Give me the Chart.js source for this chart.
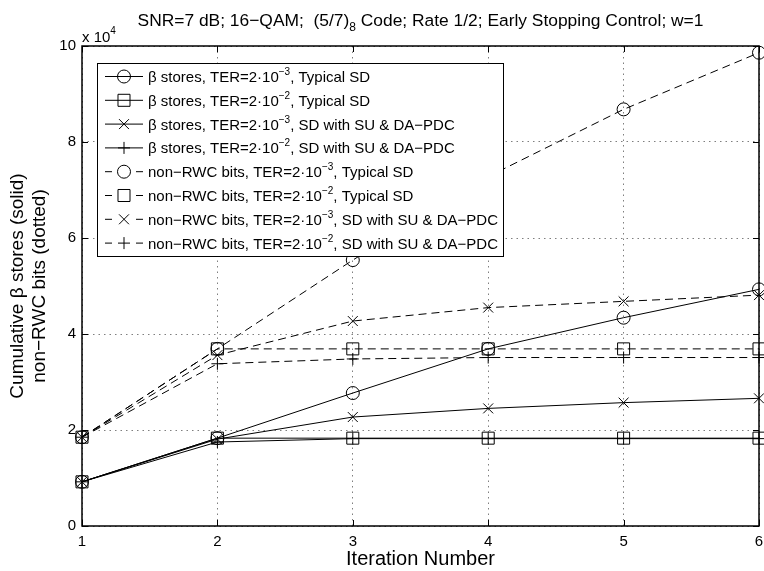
<!DOCTYPE html>
<html>
<head>
<meta charset="utf-8">
<script src="https://cdn.jsdelivr.net/npm/chart.js@4.4.0/dist/chart.umd.min.js"></script>
<style>
  body { margin: 0; background: #fff; }
  #mycanvas { display: block; }
</style>
</head>
<body>
<canvas id="mycanvas" width="764" height="571"></canvas>
<script>
// iteration numbers on the x axis
var iterations = [1, 2, 3, 4, 5, 6];
// all values in units of 10^4
var betaTer3Typical = [0.92, 1.83, 2.77, 3.69, 4.34, 4.93];
var betaTer2Typical = [0.92, 1.83, 1.83, 1.83, 1.83, 1.83];
var betaTer3Su      = [0.92, 1.81, 2.27, 2.45, 2.57, 2.66];
var betaTer2Su      = [0.92, 1.75, 1.82, 1.82, 1.82, 1.82];
var bitsTer3Typical = [1.85, 3.69, 5.54, 7.28, 8.68, 9.86];
var bitsTer2Typical = [1.85, 3.69, 3.69, 3.69, 3.69, 3.69];
var bitsTer3Su      = [1.85, 3.56, 4.27, 4.55, 4.68, 4.81];
var bitsTer2Su      = [1.85, 3.38, 3.48, 3.51, 3.51, 3.51];

var xTicks = [1, 2, 3, 4, 5, 6];
var yTicks = [0, 2, 4, 6, 8, 10];

var seriesLabels = [
  'β stores, TER=2·10^−3, Typical SD',
  'β stores, TER=2·10^−2, Typical SD',
  'β stores, TER=2·10^−3, SD with SU & DA−PDC',
  'β stores, TER=2·10^−2, SD with SU & DA−PDC',
  'non−RWC bits, TER=2·10^−3, Typical SD',
  'non−RWC bits, TER=2·10^−2, Typical SD',
  'non−RWC bits, TER=2·10^−3, SD with SU & DA−PDC',
  'non−RWC bits, TER=2·10^−2, SD with SU & DA−PDC'
];

var FONT = '"Liberation Sans", Arial, Helvetica, sans-serif';

function makeSet(label, values, style, radius, dashed) {
  return {
    label: label,
    data: values.map(function (v, i) { return { x: iterations[i], y: v }; }),
    borderColor: '#000',
    borderWidth: 1,
    borderDash: dashed ? [8, 5] : [],
    pointStyle: style,
    pointRadius: radius,
    pointBorderColor: '#000',
    pointBackgroundColor: 'rgba(0,0,0,0)',
    pointBorderWidth: 1,
    fill: false,
    tension: 0,
    clip: false
  };
}

var datasets = [
  makeSet(seriesLabels[0], betaTer3Typical, 'circle', 6.5, false),
  makeSet(seriesLabels[1], betaTer2Typical, 'rect', 8.5, false),
  makeSet(seriesLabels[2], betaTer3Su, 'crossRot', 7, false),
  makeSet(seriesLabels[3], betaTer2Su, 'cross', 6, false),
  makeSet(seriesLabels[4], bitsTer3Typical, 'circle', 6.5, true),
  makeSet(seriesLabels[5], bitsTer2Typical, 'rect', 8.5, true),
  makeSet(seriesLabels[6], bitsTer3Su, 'crossRot', 7, true),
  makeSet(seriesLabels[7], bitsTer2Su, 'cross', 6, true)
];

// text with one raised (sup) or lowered (sub) piece
function drawPieces(ctx, pieces, x, y, size) {
  pieces.forEach(function (p) {
    var s = p.small ? Math.round(size * 0.68) : size;
    ctx.font = s + 'px ' + FONT;
    ctx.fillText(p.t, x, y + (p.shift || 0));
    x += ctx.measureText(p.t).width;
  });
  return x;
}
function piecesWidth(ctx, pieces, size) {
  var w = 0;
  pieces.forEach(function (p) {
    var s = p.small ? Math.round(size * 0.68) : size;
    ctx.font = s + 'px ' + FONT;
    w += ctx.measureText(p.t).width;
  });
  return w;
}

var matlabLook = {
  id: 'matlabLook',
  afterDraw: function (chart) {
    var ctx = chart.ctx;
    var a = chart.chartArea;
    var xs = chart.scales.x, ys = chart.scales.y;
    ctx.save();
    ctx.strokeStyle = '#000';
    ctx.fillStyle = '#000';
    ctx.setLineDash([]);

    // inner tick marks
    ctx.lineWidth = 1;
    ctx.beginPath();
    xTicks.forEach(function (v) {
      var px = Math.round(xs.getPixelForValue(v)) + 0.5;
      ctx.moveTo(px, a.bottom); ctx.lineTo(px, a.bottom - 6);
      ctx.moveTo(px, a.top); ctx.lineTo(px, a.top + 6);
    });
    yTicks.forEach(function (v) {
      var py = Math.round(ys.getPixelForValue(v)) + 0.5;
      ctx.moveTo(a.left, py); ctx.lineTo(a.left + 6, py);
      ctx.moveTo(a.right, py); ctx.lineTo(a.right - 6, py);
    });
    ctx.stroke();

    // box
    ctx.lineWidth = 1.5;
    ctx.strokeRect(a.left, a.top, a.right - a.left, a.bottom - a.top);

    // exponent label
    ctx.textBaseline = 'alphabetic';
    ctx.textAlign = 'left';
    drawPieces(ctx, [{ t: 'x 10' }, { t: '4', small: true, shift: -8 }], a.left, 42, 15);

    // title
    var tp = [
      { t: 'SNR=7 dB; 16−QAM;  (5/7)' },
      { t: '8', small: true, shift: 5 },
      { t: ' Code; Rate 1/2; Early Stopping Control; w=1' }
    ];
    var tw = piecesWidth(ctx, tp, 17.4);
    drawPieces(ctx, tp, (a.left + a.right) / 2 - tw / 2, 26, 17.4);

    // legend
    var lx = 97, ly = 63, lw = 406, lh = 193;
    ctx.fillStyle = '#fff';
    ctx.fillRect(lx, ly, lw, lh);
    ctx.lineWidth = 1;
    ctx.strokeRect(lx + 0.5, ly + 0.5, lw, lh);
    ctx.fillStyle = '#000';
    chart.data.datasets.forEach(function (ds, i) {
      var cy = 76.5 + i * 23.8;
      var dashed = ds.borderDash.length > 0;
      ctx.beginPath();
      if (dashed) {
        ctx.moveTo(105, cy); ctx.lineTo(112, cy);
        ctx.moveTo(136, cy); ctx.lineTo(143, cy);
      } else {
        ctx.moveTo(105, cy); ctx.lineTo(143, cy);
      }
      ctx.stroke();
      ctx.fillStyle = 'rgba(0,0,0,0)';
      Chart.helpers.drawPoint(ctx, { pointStyle: ds.pointStyle, radius: ds.pointRadius, rotation: 0, borderWidth: 1 }, 124, cy);
      ctx.fillStyle = '#000';
      var parts = ds.label.split('^');
      var exp = parts[1].slice(0, 2);
      var rest = parts[1].slice(2);
      drawPieces(ctx, [{ t: parts[0] }, { t: exp, small: true, shift: -7 }, { t: rest }], 148, cy + 5.5, 15);
    });
    ctx.restore();
  }
};

var ctx = document.getElementById('mycanvas');
var chart = new Chart(ctx, {
  type: 'line',
  data: { datasets: datasets },
  options: {
    responsive: false,
    animation: false,
    layout: { autoPadding: false, padding: { top: 46, right: 5, left: 0, bottom: 0 } },
    plugins: { legend: { display: false }, tooltip: { enabled: false } },
    scales: {
      x: {
        type: 'linear',
        min: 1, max: 6,
        afterBuildTicks: function (s) { s.ticks = xTicks.map(function (v) { return { value: v }; }); },
        afterFit: function (s) { s.height = 45; s.paddingLeft = 0; s.paddingRight = 0; },
        grid: { color: 'rgba(0,0,0,0.5)', drawTicks: false, lineWidth: 1 },
        border: { display: false, dash: [1.5, 4] },
        ticks: { color: '#000', padding: 7, maxRotation: 0, font: { family: FONT, size: 15 } },
        title: { display: true, text: 'Iteration Number', color: '#000', padding: { top: 0, bottom: 0 }, font: { family: FONT, size: 20 } }
      },
      y: {
        min: 0, max: 10,
        afterBuildTicks: function (s) { s.ticks = yTicks.map(function (v) { return { value: v }; }); },
        afterFit: function (s) { s.width = 82; s.paddingTop = 0; s.paddingBottom = 0; },
        grid: { color: 'rgba(0,0,0,0.5)', drawTicks: false, lineWidth: 1 },
        border: { display: false, dash: [1.5, 4] },
        ticks: { color: '#000', padding: 6, font: { family: FONT, size: 15 } },
        title: { display: true, text: ['Cumulative β stores (solid)', 'non−RWC bits (dotted)'], color: '#000', padding: { top: 6, bottom: 0 }, font: { family: FONT, size: 19, lineHeight: 1.2 } }
      }
    }
  },
  plugins: [matlabLook]
});
</script>
</body>
</html>
